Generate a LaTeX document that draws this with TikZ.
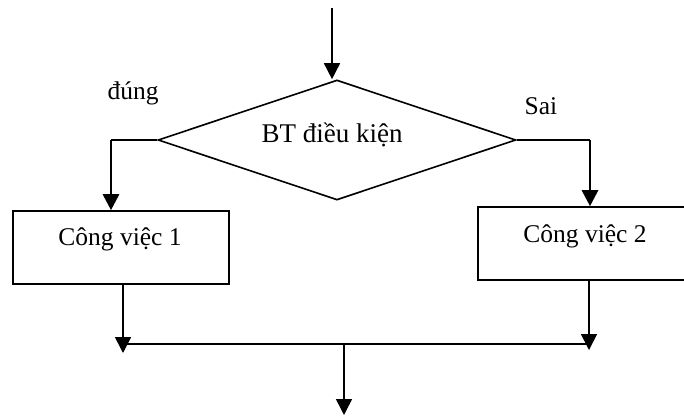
\documentclass[tikz,border=0pt]{standalone}
\usepackage{fontspec}
\setmainfont{Liberation Serif}
\usetikzlibrary{arrows.meta,shapes.geometric}
\begin{document}
\begin{tikzpicture}[x=1pt,y=1pt,
  line/.style={draw=black,line width=1.6pt},
  thickline/.style={draw=black,line width=2.8pt},
  arr/.style={-{Triangle[width=16pt,length=16pt]}},
  box/.style={draw=black,line width=1.6pt,rectangle,inner sep=0pt},
  txt/.style={font=\fontsize{25.5}{28}\selectfont,inner sep=0pt}]
  \clip (0,0) rectangle (684,-417);
  \fill[white] (0,0) rectangle (684,-417);

  % decision
  \node[diamond,draw=black,line width=1.6pt,minimum width=358pt,minimum height=120pt,inner sep=0pt] (dia) at (337,-140) {};
  \node[txt,font=\fontsize{27}{30}\selectfont] (cond) at (332,-135) {BT điều kiện};

  % process boxes
  \node[box,minimum width=216pt,minimum height=73pt] (b1) at (121,-247.5) {};
  \node[txt] (t1) at (120,-239) {Công việc 1};
  \node[box,minimum width=214pt,minimum height=73pt] (b2) at (585,-243.5) {};
  \node[txt] (t2) at (585,-236) {Công việc 2};

  % branch labels
  \node[txt] (yes) at (133,-93) {đúng};
  \node[txt] (no) at (541,-106) {Sai};

  % connector points
  \coordinate (start) at (332,-8);
  \coordinate (lturn) at (111,-140);
  \coordinate (rturn) at (590,-140);
  \coordinate (j1) at (123,-353);
  \coordinate (j2) at (589,-350);
  \coordinate (m1) at (123,-344);
  \coordinate (m2) at (589,-344);
  \coordinate (mid) at (344,-344);
  \coordinate (stop) at (344,-415);

  % entry
  \draw[line,arr] (start) -- (start |- dia.north);
  % true branch
  \draw[line] (dia.west) -- (lturn);
  \draw[thickline,arr] (lturn) -- (lturn |- b1.north);
  % false branch
  \draw[line] (dia.east) -- (rturn);
  \draw[thickline,arr] (rturn) -- (rturn |- b2.north);
  % merge
  \draw[line,arr] (b1.south -| j1) -- (j1);
  \draw[line,arr] (b2.south -| j2) -- (j2);
  \draw[line] (m1) -- (m2);
  \draw[line,arr] (mid) -- (stop);
\end{tikzpicture}
\end{document}
